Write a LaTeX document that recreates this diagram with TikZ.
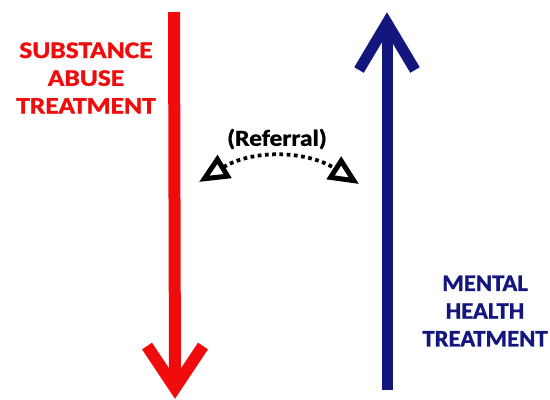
\documentclass[tikz,border=0pt]{standalone}
\usepackage{fontspec}
\setmainfont{Carlito}[BoldFeatures={FakeBold=1.2}]
\usetikzlibrary{arrows.meta}
\definecolor{abusered}{RGB}{240,12,12}
\definecolor{mhblue}{RGB}{18,22,125}
\tikzset{
  biglabel/.style={align=center,font=\bfseries\fontsize{13.5}{15.8}\selectfont,inner sep=0pt},
  reftip/.tip={Triangle[open,length=0.6cm,width=0.52cm,line width=0.1cm]}
}

\begin{document}
\begin{tikzpicture}[x=0.02cm,y=-0.02cm]
\useasboundingbox (0,0) rectangle (550,399);
% substance abuse arrow (down)
\coordinate (sTop) at (174,12);
\coordinate (sTip) at (175,388);
\draw[abusered,line width=0.24cm] (sTop) -- (sTip);
\draw[abusered,line width=0.24cm,miter limit=10] (147,346) -- (sTip) -- (203,346);
% mental health arrow (up)
\coordinate (mBot) at (387,390);
\coordinate (mTip) at (387,23);
\draw[mhblue,line width=0.22cm] (mBot) -- (mTip);
\draw[mhblue,line width=0.22cm,miter limit=10] (359,70) -- (mTip) -- (415,70);
% labels
\node[biglabel,text=abusered,xscale=1.16] (sa) at (86,78) {SUBSTANCE\\ABUSE\\TREATMENT};
\node[biglabel,text=mhblue,xscale=1.04] (mh) at (485,311) {MENTAL\\HEALTH\\TREATMENT};
% referral
\node[font=\bfseries\fontsize{13}{15}\selectfont,xscale=1.12] (ref) at (277,139) {(Referral)};
\coordinate (refL) at (199,182);
\coordinate (refR) at (359,184);
\draw[line width=0.075cm,dash pattern=on 0.075cm off 0.07cm,reftip-reftip]
  (refL) to[bend left=32] (refR);
\end{tikzpicture}
\end{document}
